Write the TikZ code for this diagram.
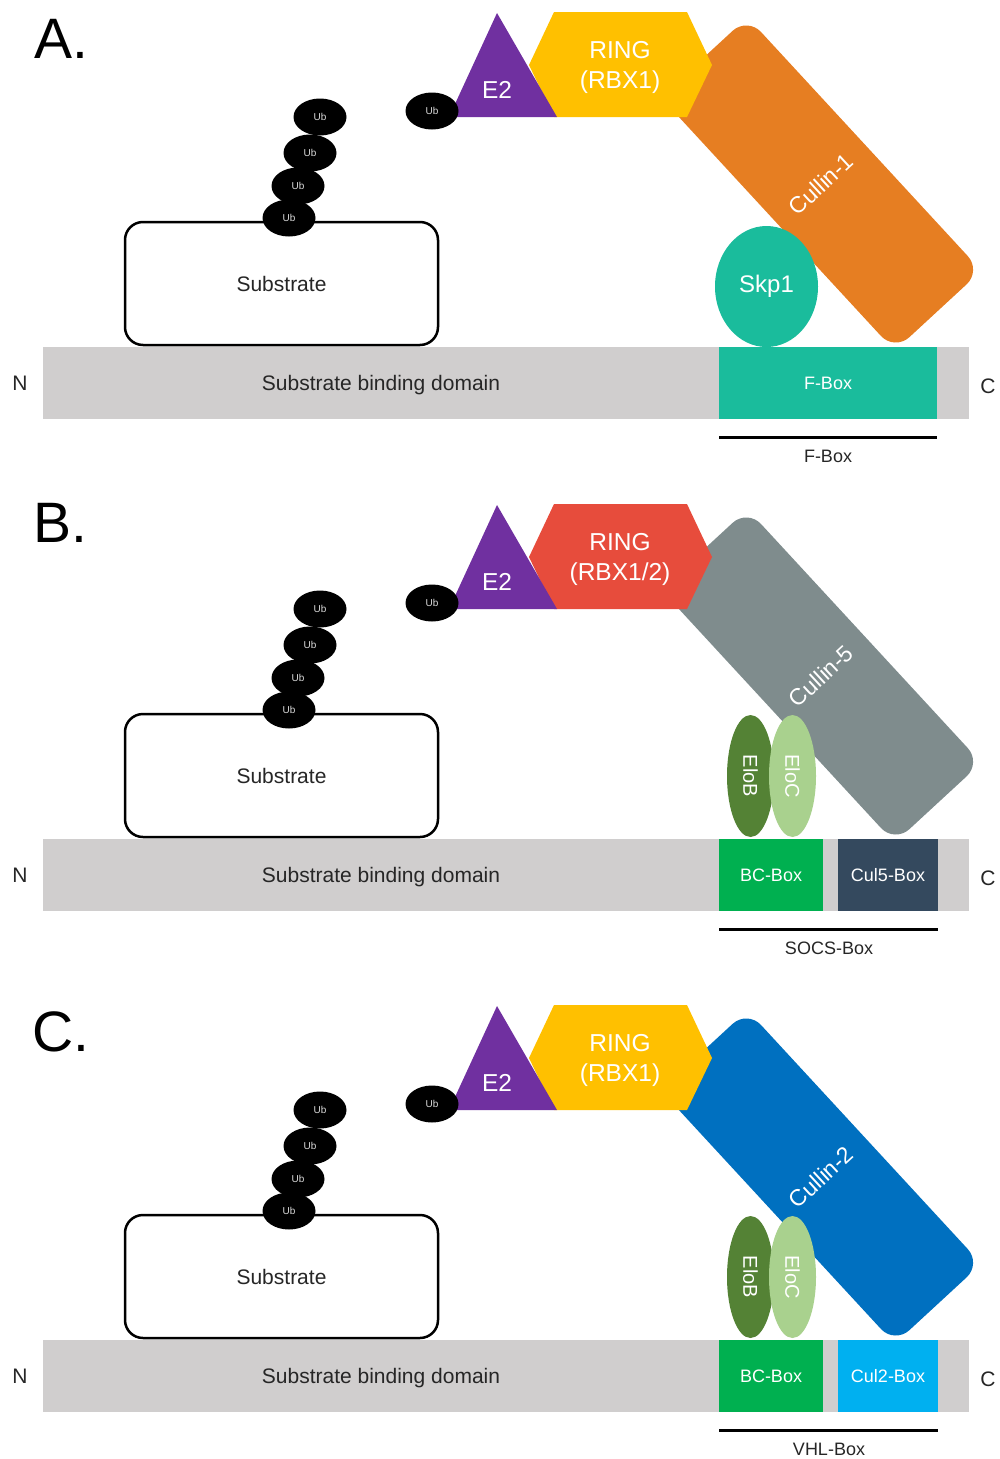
\documentclass[tikz,border=0pt]{standalone}
\usepackage{fontspec}
\setmainfont{Liberation Sans}
\usetikzlibrary{shapes.geometric}
\definecolor{barcol}{HTML}{D0CECE}
\definecolor{e2col}{HTML}{7030A0}
\definecolor{ringY}{HTML}{FFC000}
\definecolor{ringR}{HTML}{E74C3C}
\definecolor{culO}{HTML}{E67E22}
\definecolor{culG}{HTML}{7F8C8D}
\definecolor{culB}{HTML}{0070C0}
\definecolor{skpteal}{HTML}{1ABC9C}
\definecolor{bcgreen}{HTML}{00B050}
\definecolor{cul5box}{HTML}{34495E}
\definecolor{cul2box}{HTML}{00B0F0}
\definecolor{elob}{HTML}{548235}
\definecolor{eloc}{HTML}{A9D18E}
\definecolor{txtgray}{HTML}{262626}
\newcommand\fsz[2]{\fontsize{#1}{#2}\selectfont}
\tikzset{
  panlbl/.style={text=black, font=\fsz{57}{60}, inner sep=0},
  barnode/.style={fill=barcol, minimum width=926, minimum height=72, inner sep=0},
  lbl/.style={text=txtgray, font=\fsz{21}{25}, inner sep=0},
  smlbl/.style={text=txtgray, font=\fsz{18}{22}, inner sep=0},
  dombox/.style={minimum height=72, inner sep=0, text=white, font=\fsz{18}{22}},
  ubnode/.style={ellipse, fill=black, minimum width=53, minimum height=37, inner sep=0, text=white!85!black, font=\fsz{10}{12}},
  subbox/.style={draw=black, line width=2.5, rounded corners=18, fill=white, minimum width=313, minimum height=123, inner sep=0, text=txtgray, font=\fsz{21}{25}},
  cullinbox/.style={rotate=42.7, minimum width=118, minimum height=345, rounded corners=20, inner sep=0, text=white, font=\fsz{23}{27}},
  bigtxt/.style={text=white, font=\fsz{24.5}{30}, inner sep=0, align=center},
  elo/.style={ellipse, rotate=-90, minimum width=122, minimum height=47, inner sep=0, text=white, font=\fsz{20}{24}},
  bracketline/.style={line width=3, draw=black}
}
% #1 letter, #2 ring colour, #3 ring text, #4 cullin colour, #5 cullin text
\newcommand\panelcore[5]{%
  \node[barnode] (#1-bar) at (506,383) {};
  \node[lbl] (#1-N) at (20,383) {N};
  \node[lbl] (#1-C) at (988,386) {C};
  \node[lbl] (#1-sbd) at (381,385) {Substrate binding domain};
  \node[cullinbox, fill=#4] (#1-cul) at (821,184) {#5};
  \fill[#2] (554,12) -- (687,12) -- (712,65) -- (687,117) -- (554,117) -- (529,65) -- cycle;
  \node[bigtxt] (#1-ring) at (620,67) {RING\\#3};
  \fill[e2col] (497,13) -- (557,117) -- (449,117) -- cycle;
  \node[bigtxt] (#1-e2) at (497,90) {E2};
  \node[ubnode] (#1-ube) at (432,111) {Ub};
  \node[subbox] (#1-sub) at (281.5,283.5) {Substrate};
  \node[ubnode] (#1-ub1) at (289,218) {Ub};
  \node[ubnode] (#1-ub2) at (298,186) {Ub};
  \node[ubnode] (#1-ub3) at (310,153) {Ub};
  \node[ubnode] (#1-ub4) at (320,117) {Ub};
}
\begin{document}
\begin{tikzpicture}[x=1pt,y=-1pt]
\useasboundingbox (0,0) rectangle (1000,1459);
% Panel A
\begin{scope}
  \node[panlbl] (A-lab) at (61,39) {A.};
  \panelcore{A}{ringY}{(RBX1)}{culO}{Cullin-1}
  \node[dombox, fill=skpteal, minimum width=218] (A-fbox) at (828,383) {F-Box};
  \node[ellipse, fill=skpteal, minimum width=103, minimum height=121, inner sep=0, text=white, font=\fsz{24}{28}] (A-skp) at (766.5,286.5) {\raisebox{-2pt}{Skp1}};
  \coordinate (A-l1) at (719,437);
  \coordinate (A-l2) at (937,437);
  \draw[bracketline] (A-l1) -- (A-l2);
  \node[smlbl] (A-boxlbl) at (828,456) {F-Box};
\end{scope}
% Panel B
\begin{scope}[shift={(0,492)}]
  \node[panlbl] (B-lab) at (60,31) {B.};
  \panelcore{B}{ringR}{(RBX1/2)}{culG}{Cullin-5}
  \node[dombox, fill=bcgreen, minimum width=104] (B-bc) at (771,383) {BC-Box};
  \node[dombox, fill=cul5box, minimum width=100] (B-cb) at (888,383) {Cul5-Box};
  \node[elo, fill=elob] (B-elob) at (750.5,284) {EloB};
  \node[elo, fill=eloc] (B-eloc) at (792.5,284) {EloC};
  \coordinate (B-l1) at (719,437);
  \coordinate (B-l2) at (938,437);
  \draw[bracketline] (B-l1) -- (B-l2);
  \node[smlbl] (B-boxlbl) at (829,456) {SOCS-Box};
\end{scope}
% Panel C
\begin{scope}[shift={(0,993)}]
  \node[panlbl] (C-lab) at (61,39) {C.};
  \panelcore{C}{ringY}{(RBX1)}{culB}{Cullin-2}
  \node[dombox, fill=bcgreen, minimum width=104] (C-bc) at (771,383) {BC-Box};
  \node[dombox, fill=cul2box, minimum width=100] (C-cb) at (888,383) {Cul2-Box};
  \node[elo, fill=elob] (C-elob) at (750.5,284) {EloB};
  \node[elo, fill=eloc] (C-eloc) at (792.5,284) {EloC};
  \coordinate (C-l1) at (719,437);
  \coordinate (C-l2) at (938,437);
  \draw[bracketline] (C-l1) -- (C-l2);
  \node[smlbl] (C-boxlbl) at (829,456) {VHL-Box};
\end{scope}
\end{tikzpicture}
\end{document}
